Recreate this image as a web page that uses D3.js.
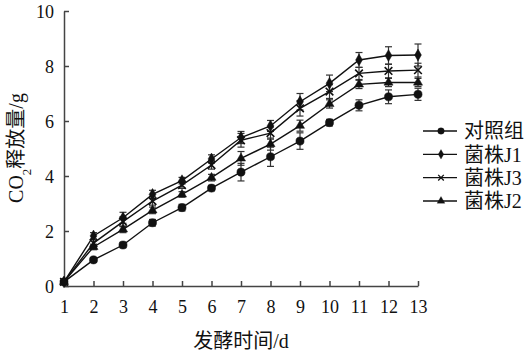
<!DOCTYPE html>
<html>
<head>
<meta charset="utf-8">
<script src="https://cdn.jsdelivr.net/npm/d3@7"></script>
<style>
  body { margin: 0; background: #fff; }
  text { font-family: "Liberation Serif", "Times New Roman", "Noto Sans CJK SC", serif; fill: #111; }
</style>
</head>
<body>
<svg id="chart"></svg>
<script>
/* data */
const days = [1, 2, 3, 4, 5, 6, 7, 8, 9, 10, 11, 12, 13];
const seriesNames = ["对照组", "菌株J1", "菌株J3", "菌株J2"];
const control = [0.15, 0.95, 1.49, 2.30, 2.85, 3.56, 4.14, 4.70, 5.27, 5.94, 6.57, 6.88, 6.97];
const controlErr = [0.05, 0.08, 0.10, 0.12, 0.12, 0.10, 0.32, 0.35, 0.30, 0.12, 0.20, 0.25, 0.22];
const j1 = [0.15, 1.82, 2.48, 3.33, 3.83, 4.62, 5.40, 5.82, 6.70, 7.37, 8.22, 8.38, 8.40];
const j1Err = [0.05, 0.12, 0.20, 0.15, 0.12, 0.15, 0.22, 0.20, 0.30, 0.30, 0.27, 0.32, 0.40];
const j3 = [0.15, 1.56, 2.34, 3.09, 3.67, 4.40, 5.30, 5.56, 6.46, 7.07, 7.73, 7.82, 7.85];
const j3Err = [0.05, 0.15, 0.18, 0.15, 0.12, 0.15, 0.25, 0.22, 0.28, 0.25, 0.22, 0.25, 0.25];
const j2 = [0.15, 1.42, 2.06, 2.75, 3.33, 3.94, 4.64, 5.16, 5.83, 6.62, 7.33, 7.40, 7.40];
const j2Err = [0.05, 0.10, 0.12, 0.12, 0.10, 0.12, 0.25, 0.22, 0.20, 0.15, 0.15, 0.15, 0.15];
const yTicks = [0, 2, 4, 6, 8, 10];

const series = [
  { name: seriesNames[0], values: control, err: controlErr, marker: "circle" },
  { name: seriesNames[1], values: j1, err: j1Err, marker: "diamond" },
  { name: seriesNames[2], values: j3, err: j3Err, marker: "cross" },
  { name: seriesNames[3], values: j2, err: j2Err, marker: "triangle" }
];

const width = 532, height = 356;
const svg = d3.select("#chart").attr("width", width).attr("height", height);

const x = d3.scaleLinear().domain([1, 13]).range([64, 418]);
const y = d3.scaleLinear().domain([0, 10]).range([286, 11]);

/* axes */
const xAxis = svg.append("g")
  .attr("transform", `translate(0,${y(0)})`)
  .call(d3.axisBottom(x).tickValues(days).tickFormat(d3.format("d"))
    .tickSizeInner(-5).tickSizeOuter(0).tickPadding(14));
const yAxis = svg.append("g")
  .attr("transform", `translate(${x(1)},0)`)
  .call(d3.axisLeft(y).tickValues(yTicks)
    .tickSizeInner(-5).tickSizeOuter(0).tickPadding(10));

[xAxis, yAxis].forEach(g => {
  g.selectAll("path, line").attr("stroke", "#444").attr("stroke-width", 1.5);
  g.selectAll("text").style("font-size", "18px").attr("fill", "#111");
});
yAxis.selectAll("text").attr("dy", "0.35em");

/* marker shapes */
const symbols = {
  circle: d3.symbol().type(d3.symbolCircle).size(52),
  diamond: d3.symbol().type(d3.symbolDiamond).size(40),
  cross: d3.symbol().type(d3.symbolX).size(40),
  triangle: d3.symbol().type(d3.symbolTriangle).size(36)
};
const legendSymbols = {
  circle: d3.symbol().type(d3.symbolCircle).size(34),
  diamond: d3.symbol().type(d3.symbolDiamond).size(26),
  cross: d3.symbol().type(d3.symbolX).size(22),
  triangle: d3.symbol().type(d3.symbolTriangle).size(26)
};

const line = d3.line().x((d, i) => x(days[i])).y(d => y(d));

/* error bars */
series.forEach(s => {
  const g = svg.append("g");
  const eb = g.selectAll(".eb").data(s.values).enter().append("g").attr("stroke", "#333").attr("stroke-width", 1.2);
  eb.append("line")
    .attr("x1", (d, i) => x(days[i])).attr("x2", (d, i) => x(days[i]))
    .attr("y1", (d, i) => y(d - s.err[i])).attr("y2", (d, i) => y(d + s.err[i]));
  eb.append("line")
    .attr("x1", (d, i) => x(days[i]) - 3.5).attr("x2", (d, i) => x(days[i]) + 3.5)
    .attr("y1", (d, i) => y(d - s.err[i])).attr("y2", (d, i) => y(d - s.err[i]));
  eb.append("line")
    .attr("x1", (d, i) => x(days[i]) - 3.5).attr("x2", (d, i) => x(days[i]) + 3.5)
    .attr("y1", (d, i) => y(d + s.err[i])).attr("y2", (d, i) => y(d + s.err[i]));
});

series.forEach(s => {
  const g = svg.append("g");
  g.append("path").datum(s.values)
    .attr("d", line).attr("fill", "none").attr("stroke", "#111").attr("stroke-width", 1.4);
  g.selectAll(".pt").data(s.values).enter().append("path")
    .attr("transform", (d, i) => `translate(${x(days[i])},${y(d)})`)
    .attr("d", symbols[s.marker])
    .attr("fill", "#111")
    .attr("stroke", "#111")
    .attr("stroke-width", s.marker === "cross" ? 1.6 : 0.5);
});

/* legend */
const legendY = d3.scalePoint().domain(seriesNames).range([131, 201]);
const legend = svg.append("g");
series.forEach(s => {
  const ly = legendY(s.name);
  legend.append("line").attr("x1", 423).attr("x2", 457).attr("y1", ly).attr("y2", ly)
    .attr("stroke", "#111").attr("stroke-width", 1.4);
  legend.append("path").attr("transform", `translate(441,${ly})`)
    .attr("d", legendSymbols[s.marker]).attr("fill", "#111").attr("stroke", "#111")
    .attr("stroke-width", s.marker === "cross" ? 1.3 : 0.3);
  legend.append("text").attr("x", 464).attr("y", ly).attr("dy", "0.36em")
    .style("font-size", "20px").text(s.name);
});

/* axis titles */
svg.append("text").attr("x", (x(1) + x(13)) / 2).attr("y", 348)
  .attr("text-anchor", "middle").style("font-size", "20px").text("发酵时间/d");

const yt = svg.append("text")
  .attr("transform", "translate(23,148) rotate(-90)")
  .attr("text-anchor", "middle").style("font-size", "20px");
yt.append("tspan").text("CO");
yt.append("tspan").attr("baseline-shift", "sub").style("font-size", "13px").text("2");
yt.append("tspan").text("释放量/g");
</script>
</body>
</html>
